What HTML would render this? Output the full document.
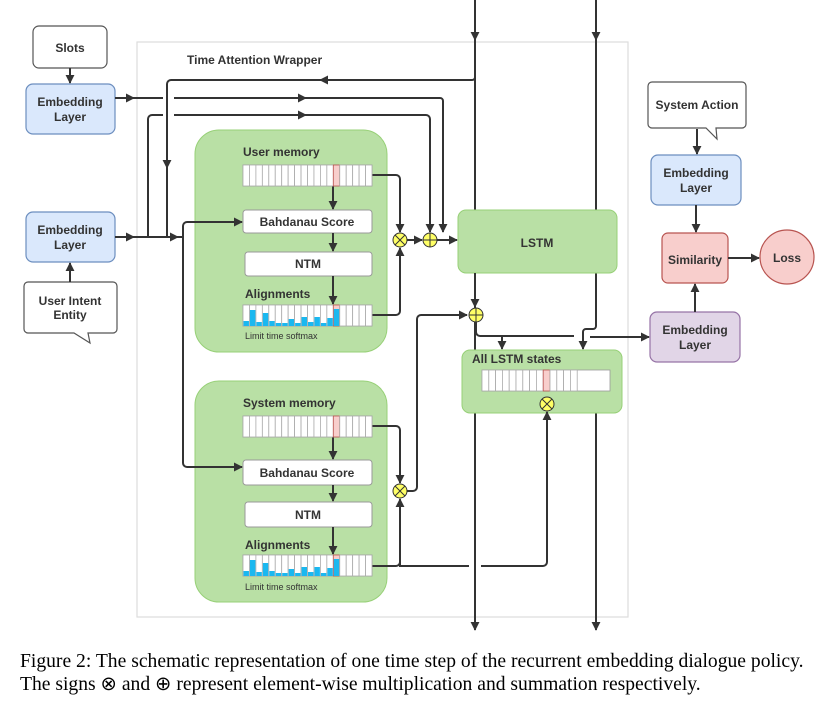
<!DOCTYPE html>
<html><head><meta charset="utf-8"><style>
html,body{margin:0;padding:0;background:#fff;width:839px;height:728px;overflow:hidden}
svg{display:block}
.t{font-family:"Liberation Sans",sans-serif;font-weight:bold;fill:#333;font-size:12px}
.cap{font-family:"Liberation Serif",serif;font-size:19.6px;fill:#000}
</style></head><body>
<svg id="s" width="839" height="728" viewBox="0 0 839 728" xmlns="http://www.w3.org/2000/svg">
<defs>
<marker id="a" viewBox="0 0 10 10" refX="9" refY="5" markerWidth="4.5" markerHeight="4.5" orient="auto-start-reverse"><path d="M0,0L10,5L0,10z" fill="#333"/></marker>
</defs>
<!-- wrapper -->
<rect x="137" y="42" width="491" height="575" fill="none" stroke="#ddd" stroke-width="1.2"/>
<text class="t" x="187" y="64" font-size="12">Time Attention Wrapper</text>

<!-- main verticals (behind boxes) -->
<g stroke="#333" stroke-width="2" fill="none">
<line x1="475" y1="0" x2="475" y2="630" marker-end="url(#a)"/>
<line x1="475" y1="0" x2="475" y2="40" marker-end="url(#a)"/>
<line x1="596" y1="0" x2="596" y2="40" marker-end="url(#a)"/>
<line x1="596" y1="40" x2="596" y2="322"/>
<line x1="596" y1="350" x2="596" y2="630" marker-end="url(#a)"/>
</g>

<!-- left boxes -->
<rect x="33" y="26" width="74" height="42" rx="6" fill="#fff" stroke="#555" stroke-width="1.2"/>
<text class="t" x="70" y="52" text-anchor="middle">Slots</text>
<rect x="26" y="84" width="89" height="50" rx="7" fill="#dae8fc" stroke="#6c8ebf" stroke-width="1.2"/>
<text class="t" x="70" y="106" text-anchor="middle">Embedding</text><text class="t" x="70" y="121" text-anchor="middle">Layer</text>
<rect x="26" y="212" width="89" height="50" rx="7" fill="#dae8fc" stroke="#6c8ebf" stroke-width="1.2"/>
<text class="t" x="70" y="234" text-anchor="middle">Embedding</text><text class="t" x="70" y="249" text-anchor="middle">Layer</text>
<path d="M28,282 H113 a4,4 0 0 1 4,4 V329 a4,4 0 0 1 -4,4 H88 L90,343 L74,333 H28 a4,4 0 0 1 -4,-4 V286 a4,4 0 0 1 4,-4z" fill="#fff" stroke="#555" stroke-width="1.2"/>
<text class="t" x="70" y="305" text-anchor="middle">User Intent</text><text class="t" x="70" y="319" text-anchor="middle">Entity</text>
<line x1="70" y1="68" x2="70" y2="83" stroke="#333" stroke-width="2" marker-end="url(#a)"/>
<line x1="70" y1="282" x2="70" y2="263" stroke="#333" stroke-width="2" marker-end="url(#a)"/>

<!-- green boxes -->
<rect x="195" y="130" width="192" height="222" rx="24" fill="#b9e0a5" stroke="#97d077" stroke-width="1"/>
<rect x="195" y="381" width="192" height="221" rx="24" fill="#b9e0a5" stroke="#97d077" stroke-width="1"/>
<rect x="458" y="210" width="159" height="63" rx="8" fill="#b9e0a5" stroke="#97d077" stroke-width="1"/>
<text class="t" x="537" y="247" text-anchor="middle">LSTM</text>
<rect x="462" y="350" width="160" height="63" rx="8" fill="#b9e0a5" stroke="#97d077" stroke-width="1"/>
<text class="t" x="472" y="363">All LSTM states</text>

<text class="t" x="243" y="156">User memory</text>
<rect x="243" y="210" width="129" height="23" rx="3" fill="#fff" stroke="#999"/>
<text class="t" x="307" y="226" text-anchor="middle">Bahdanau Score</text>
<rect x="245" y="252" width="127" height="24" rx="3" fill="#fff" stroke="#999"/>
<text class="t" x="308" y="268" text-anchor="middle">NTM</text>
<text class="t" x="245" y="298">Alignments</text>
<text x="245" y="339" font-family="Liberation Sans,sans-serif" font-size="9" fill="#333">Limit time softmax</text>

<text class="t" x="243" y="407">System memory</text>
<rect x="243" y="460" width="129" height="25" rx="3" fill="#fff" stroke="#999"/>
<text class="t" x="307" y="477" text-anchor="middle">Bahdanau Score</text>
<rect x="245" y="502" width="127" height="25" rx="3" fill="#fff" stroke="#999"/>
<text class="t" x="308" y="519" text-anchor="middle">NTM</text>
<text class="t" x="245" y="549">Alignments</text>
<text x="245" y="590" font-family="Liberation Sans,sans-serif" font-size="9" fill="#333">Limit time softmax</text>

<!-- right column -->
<path d="M652,82 H742 a4,4 0 0 1 4,4 V124 a4,4 0 0 1 -4,4 H716 L717,139 L706,128 H652 a4,4 0 0 1 -4,-4 V86 a4,4 0 0 1 4,-4z" fill="#fff" stroke="#555" stroke-width="1.2"/>
<text class="t" x="697" y="109" text-anchor="middle" font-size="11">System Action</text>
<rect x="651" y="155" width="90" height="50" rx="7" fill="#dae8fc" stroke="#6c8ebf" stroke-width="1.2"/>
<text class="t" x="696" y="177" text-anchor="middle">Embedding</text><text class="t" x="696" y="192" text-anchor="middle">Layer</text>
<rect x="662" y="233" width="66" height="50" rx="6" fill="#f8cecc" stroke="#b85450" stroke-width="1.2"/>
<text class="t" x="695" y="264" text-anchor="middle">Similarity</text>
<circle cx="787" cy="257" r="27" fill="#f8cecc" stroke="#b85450" stroke-width="1.2"/>
<text class="t" x="787" y="262" text-anchor="middle">Loss</text>
<rect x="650" y="312" width="90" height="50" rx="7" fill="#e1d5e7" stroke="#9673a6" stroke-width="1.2"/>
<text class="t" x="695" y="334" text-anchor="middle">Embedding</text><text class="t" x="695" y="349" text-anchor="middle">Layer</text>
<g stroke="#333" stroke-width="2" fill="none">
<line x1="697" y1="129" x2="697" y2="154" marker-end="url(#a)"/>
<line x1="696" y1="205" x2="696" y2="232" marker-end="url(#a)"/>
<line x1="728" y1="258" x2="759" y2="258" marker-end="url(#a)"/>
<line x1="695" y1="312" x2="695" y2="284" marker-end="url(#a)"/>
<line x1="590" y1="337" x2="649" y2="337" marker-end="url(#a)"/>

<path d="M596,322 V326 a3,3 0 0 1 -3,3 H586 a3,3 0 0 0 -3,3 V349" marker-end="url(#a)"/>

<!-- top feedback -->
<path d="M475,75 V77 a3,3 0 0 1 -3,3 H171 a4,4 0 0 0 -4,4 V237"/>
<line x1="340" y1="80" x2="320" y2="80" marker-end="url(#a)"/>
<line x1="167" y1="150" x2="167" y2="168" marker-end="url(#a)"/>
<line x1="115" y1="98" x2="134" y2="98" marker-end="url(#a)"/>
<line x1="134" y1="98" x2="163" y2="98"/>
<path d="M174,98 H440 a3,3 0 0 1 3,3 V232" marker-end="url(#a)"/>
<line x1="290" y1="98" x2="306" y2="98" marker-end="url(#a)"/>
<path d="M148,237 V119 a4,4 0 0 1 4,-4 H163"/>
<path d="M174,115 H426 a4,4 0 0 1 4,4 V232" marker-end="url(#a)"/>
<line x1="290" y1="115" x2="306" y2="115" marker-end="url(#a)"/>
<line x1="115" y1="237" x2="134" y2="237" marker-end="url(#a)"/>
<line x1="134" y1="237" x2="183" y2="237"/>
<line x1="160" y1="237" x2="178" y2="237" marker-end="url(#a)"/>
<path d="M183,237 V226 a4,4 0 0 1 4,-4 H242" marker-end="url(#a)"/>
<path d="M183,237 V463 a4,4 0 0 0 4,4 H242" marker-end="url(#a)"/>

<line x1="333" y1="186" x2="333" y2="209" marker-end="url(#a)"/>
<line x1="333" y1="233" x2="333" y2="251" marker-end="url(#a)"/>
<line x1="333" y1="276" x2="333" y2="304" marker-end="url(#a)"/>
<path d="M372,175 H396 a4,4 0 0 1 4,4 V232" marker-end="url(#a)"/>
<path d="M372,315 H396 a4,4 0 0 0 4,-4 V248" marker-end="url(#a)"/>
<line x1="407" y1="240" x2="422" y2="240" marker-end="url(#a)"/>
<line x1="437" y1="240" x2="457" y2="240" marker-end="url(#a)"/>

<line x1="333" y1="437" x2="333" y2="459" marker-end="url(#a)"/>
<line x1="333" y1="485" x2="333" y2="501" marker-end="url(#a)"/>
<line x1="333" y1="527" x2="333" y2="554" marker-end="url(#a)"/>
<path d="M372,426 H396 a4,4 0 0 1 4,4 V483" marker-end="url(#a)"/>
<path d="M372,566 H396 a4,4 0 0 0 4,-4 V499" marker-end="url(#a)"/>
<path d="M407,491 H413 a4,4 0 0 0 4,-4 V319 a4,4 0 0 1 4,-4 H467" marker-end="url(#a)"/>
<path d="M400,562 V566 H469"/>
<path d="M481,566 H543 a4,4 0 0 0 4,-4 V412" marker-end="url(#a)"/>

<line x1="475" y1="273" x2="475" y2="307" marker-end="url(#a)"/>
<path d="M476,322 V332 a4,4 0 0 0 4,4 H574"/>
<line x1="502" y1="336" x2="502" y2="349" marker-end="url(#a)"/>
</g>

<g id="strips"></g>

<g stroke="#333" stroke-width="1" fill="#ffff66">
<circle cx="400" cy="240" r="7"/><circle cx="430" cy="240" r="7"/>
<circle cx="400" cy="491" r="7"/><circle cx="476" cy="315" r="7"/>
<circle cx="547" cy="404" r="7"/>
</g>
<g stroke="#333" stroke-width="1">
<path d="M395,235L405,245M405,235L395,245M395,486L405,496M405,486L395,496M542,399L552,409M552,399L542,409"/>
<path d="M430,233V247M423,240H437M476,308V322M469,315H483"/>
</g>

<text class="cap" x="20" y="667">Figure 2: The schematic representation of one time step of the recurrent embedding dialogue policy.</text>
<text class="cap" x="20" y="690">The signs ⊗ and ⊕ represent element-wise multiplication and summation respectively.</text>
</svg>
<script>
var g=document.getElementById('strips'),NS='http://www.w3.org/2000/svg';
function r(x,y,w,h,f,s){var e=document.createElementNS(NS,'rect');e.setAttribute('x',x);e.setAttribute('y',y);e.setAttribute('width',w);e.setAttribute('height',h);e.setAttribute('fill',f);if(s){e.setAttribute('stroke',s);e.setAttribute('stroke-width','0.8');}g.appendChild(e);}
function strip(x,y,bars,n,cw,red,tw){var h=21;
 r(x,y,tw||n*cw,h,'#fff','#999');
 for(var i=0;i<n;i++){var cx=x+i*cw;
  if(i==red) r(cx,y,cw,h,'#f8cecc','#b85450'); else r(cx,y,cw,h,'#fff','#aaa');
  if(bars&&i<bars.length){var bh=bars[i];r(cx+0.5,y+h-bh,cw-1,bh,'#1ab8f0');}
 }}
var A=[5,16,4,13,5,3,3,7,3,9,4,9,3,8,17];
strip(243,165,null,20,129/20,14);
strip(243,305,A,20,129/20,14);
strip(243,416,null,20,129/20,14);
strip(243,555,A,20,129/20,14);
strip(482,370,null,14,6.8,9,128);
</script>
</body></html>
